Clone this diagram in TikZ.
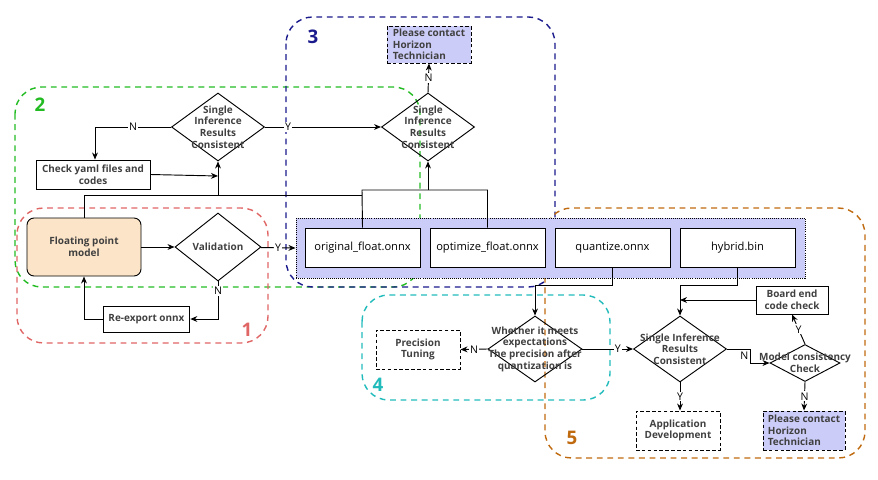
\documentclass[tikz,border=0pt]{standalone}
\usepackage{fontspec}
\setmainfont{Open Sans}
\usetikzlibrary{shapes.geometric,arrows.meta}
\definecolor{peach}{HTML}{FCE4C8}
\definecolor{lav}{HTML}{CCCCF8}
\definecolor{grp1}{HTML}{E06666}
\definecolor{grp2}{HTML}{22BB22}
\definecolor{grp3}{HTML}{1A1A8C}
\definecolor{grp4}{HTML}{22BBBB}
\definecolor{grp5}{HTML}{C06A10}
\tikzset{
  txt/.style={font=\fontsize{8.5}{10}\selectfont\bfseries, text=black!75, align=center},
  filebox/.style={draw, thick, fill=white, font=\fontsize{9.5}{11}\selectfont,
    minimum width=3.45cm, minimum height=1.17cm, inner sep=0},
  plainbox/.style={draw, thick, txt, inner sep=2pt},
  dashbox/.style={draw, densely dashed, txt, inner sep=2pt},
  decide/.style={draw, thick, diamond, inner sep=0},
  group/.style={dashed, very thick, rounded corners=0.8cm, dash pattern=on 5pt off 4pt},
  grplabel/.style={font=\fontsize{16}{18}\selectfont\bfseries},
  lbl/.style={font=\fontsize{9}{10}\selectfont, fill=white, inner sep=1pt},
  >={Stealth[length=6pt,width=5pt]}
}
\begin{document}
\begin{tikzpicture}[x=0.03cm, y=-0.03cm, thick]
  \useasboundingbox (0,0) rectangle (878,479);

  % Groups
  \draw [group, grp2] (15,87) rectangle (420,287);
  \draw [group, grp1] (17,208) rectangle (268,343);
  \draw [group, grp3] (286,17) rectangle (555,287);
  \draw [group, grp4] (362,295) rectangle (610,400);
  \draw [group, grp5] (545,208) rectangle (865,458);
  \node [grplabel, grp2] (n2) at (40,105) {2};
  \node [grplabel, grp1] (n1) at (247,330) {1};
  \node [grplabel, grp3] (n3) at (313,37) {3};
  \node [grplabel, grp4] (n4) at (378,385) {4};
  \node [grplabel, grp5] (n5) at (572,438) {5};

  % Model band
  \node [draw, densely dotted, fill=lav, minimum width=15.27cm, minimum height=1.8cm,
    inner sep=0] (band) at (550.5,248) {};
  \node [filebox] (orig) at (362.5,247.5) {original\_float.onnx};
  \node [filebox] (opt) at (487.5,247.5) {optimize\_float.onnx};
  \node [filebox] (quant) at (612.5,247.5) {quantize.onnx};
  \node [filebox] (hyb) at (737.5,247.5) {hybrid.bin};

  % Group 1
  \node [draw, thick, fill=peach, rounded corners=6pt, txt, minimum width=3.42cm,
    minimum height=1.74cm] (float) at (84,247) {Floating point\\model};
  \node [decide, minimum width=2.58cm, minimum height=2.04cm] (valid) at (218,247) {};
  \node [txt] at (valid.center) {Validation};
  \node [plainbox, minimum width=2.6cm, minimum height=0.78cm] (reexp) at (146.5,319) {Re-export onnx};

  % Group 2
  \node [plainbox, minimum width=3.42cm, minimum height=0.87cm] (yaml) at (93,174.5) {Check yaml files and\\codes};
  \node [decide, minimum width=2.79cm, minimum height=2.04cm] (sir1) at (218,127) {};
  \node [txt] at (sir1.center) {Single\\Inference\\Results\\Consistent};

  % Group 3
  \node [decide, minimum width=2.79cm, minimum height=2.04cm] (sir2) at (428,127) {};
  \node [txt] at (sir2.center) {Single\\Inference\\Results\\Consistent};
  \node [dashbox, fill=lav, align=left, minimum width=2.52cm, minimum height=1.11cm] (help1) at (429,44.5) {Please contact\\Horizon\\Technician};

  % Group 4
  \node [decide, minimum width=2.82cm, minimum height=1.98cm] (prec) at (535,349) {};
  \node [txt] at (prec.center) {Whether it meets\\expectations\\The precision after\\quantization is};
  \node [dashbox, minimum width=2.52cm, minimum height=1.17cm] (tune) at (418,349.5) {Precision\\Tuning};

  % Group 5
  \node [decide, minimum width=2.79cm, minimum height=1.98cm] (sir3) at (680,349) {};
  \node [txt] at (sir3.center) {Single Inference\\Results\\Consistent};
  \node [plainbox, minimum width=2.16cm, minimum height=0.84cm] (board) at (792,300) {Board end\\code check};
  \node [decide, minimum width=2.1cm, minimum height=1.11cm] (cons) at (805,363) {};
  \node [txt] at (cons.center) {Model consistency\\Check};
  \node [dashbox, minimum width=2.52cm, minimum height=1.17cm] (app) at (678,430.5) {Application\\Development};
  \node [dashbox, fill=lav, align=left, minimum width=2.46cm, minimum height=1.17cm] (help2) at (804,430.5) {Please contact\\Horizon\\Technician};

  % Connectors, group 1
  \draw [->] (float) -- (valid);
  \draw [->] (valid) -- node [lbl] {Y} (band.west);
  \draw [->] (valid.south) -- node [lbl, pos=0.25] {N} (218,319) -- (reexp);
  \draw [->] (reexp.west) -| (float.south);

  % Connectors, group 2 and 3
  \draw (float.north) |- (362,195);
  \draw (orig.north) -- (362,190) -| (opt.north);
  \draw [->] (218,195) -- (sir1.south);
  \draw [->] (428,190) -- (sir2.south);
  \draw [->] (yaml.east) -- (218,176);
  \draw [->] (sir1.west) -- node [lbl, pos=0.5] {N} (95,127) -- (yaml.north -| 95,0);
  \draw [->] (sir1.east) -- node [lbl, pos=0.2] {Y} (sir2.west);
  \draw [->] (sir2.north) -- node [lbl] {N} (help1.south);

  % Connectors, group 4 and 5
  \draw [->] (quant.south) |- (535,285) -- (prec.north);
  \draw [->] (hyb.south) |- (680,285) -- (sir3.north);
  \draw [->] (board.west) -- (680,300);
  \draw [->] (prec.west) -- node [lbl] {N} (tune.east);
  \draw [->] (prec.east) -- node [lbl, pos=0.7] {Y} (sir3.west);
  \draw [->] (sir3.east) -- (750,349) -- node [lbl, left, fill=none] {N} (750,363) -- (cons.west);
  \draw [->] (cons.north) -- node [lbl] {Y} (board.south);
  \draw [->] (cons.south) -- node [lbl] {N} (help2.north);
  \draw [->] (sir3.south) -- node [lbl] {Y} (app.north -| sir3.south);
\end{tikzpicture}
\end{document}
